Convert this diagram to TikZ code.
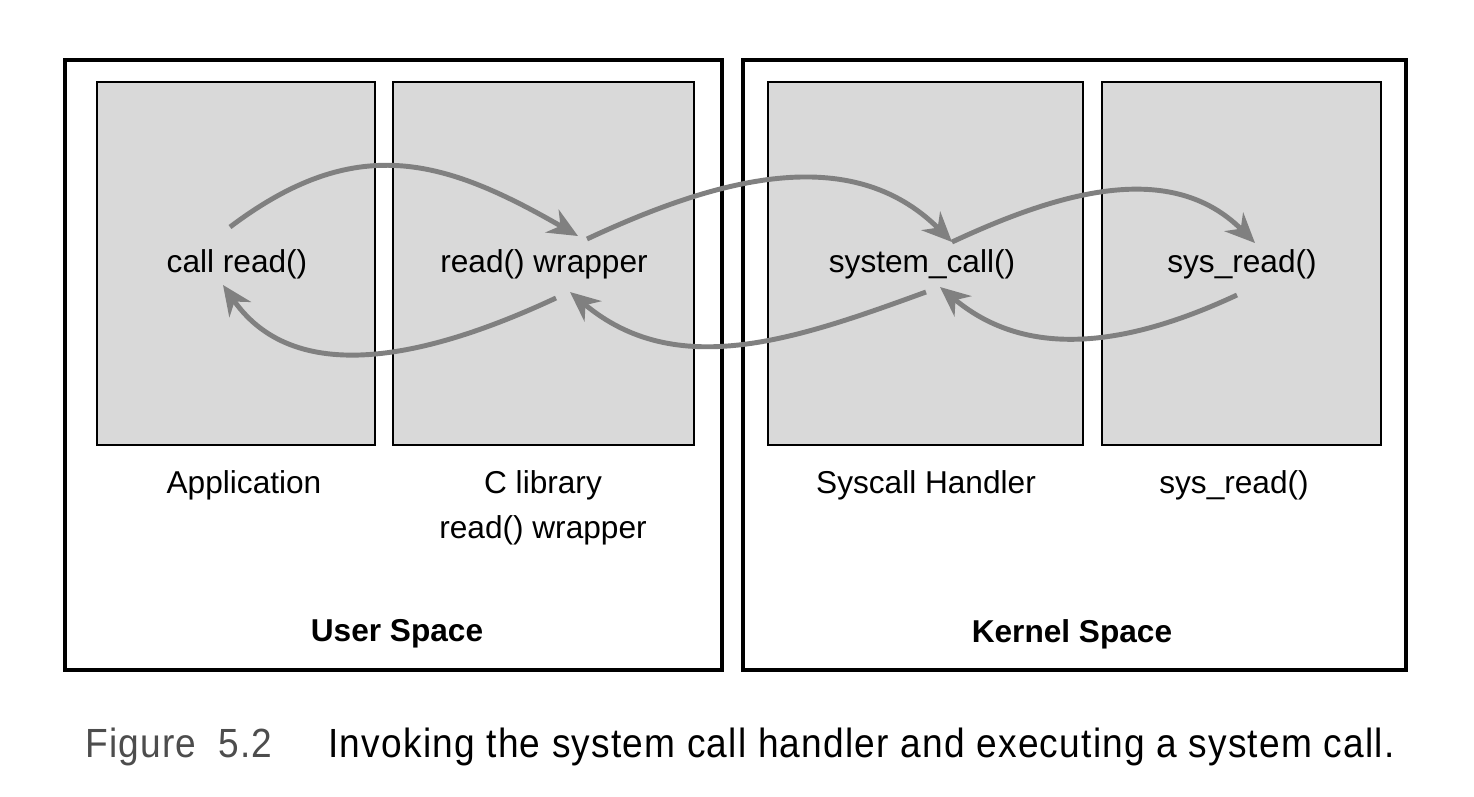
\documentclass[tikz,border=0pt]{standalone}
\usepackage{fontspec}
\setmainfont{Liberation Sans}
\newfontfamily\capfont{Liberation Sans}[FakeStretch=0.91, LetterSpace=3]
\usetikzlibrary{arrows.meta}

\definecolor{partgrey}{HTML}{D9D9D9}
\definecolor{flowgrey}{HTML}{808080}
\definecolor{figgrey}{HTML}{4D4D4D}

\begin{document}
\begin{tikzpicture}[
	x=0.02cm, y=0.02cm,
	space/.style = {draw, line width=2.3pt, minimum height=12.2cm},
	part/.style = {draw, line width=1.1pt, fill=partgrey, minimum height=7.26cm},
	label/.style = {font=\fontsize{18}{25.5}\selectfont, align=center, inner sep=0pt},
	title/.style = {label, font=\fontsize{18}{22}\selectfont\bfseries},
	caption/.style = {anchor=base west, inner sep=0pt, font=\capfont\fontsize{23.2}{28}\selectfont},
	flow/.style = {draw=flowgrey, line width=2.8pt,
		-{Stealth[length=17pt, width=15pt, inset=5.5pt]}},
]
	\useasboundingbox (0,0) rectangle (1474,-796);

	%% The two spaces
	\node [space, minimum width=13.14cm] at (393.5,-365) (user) {};
	\node [space, minimum width=13.26cm] at (1074.5,-365) (kernel) {};

	%% The four grey parts, from left to right
	\foreach \name/\l/\r in {app/97/375, clib/393/694, handler/768/1083, readbox/1102/1381}{%
		\pgfmathsetmacro\w{(\r-\l)*0.02}
		\node [part, minimum width=\w cm] at ({(\l+\r)/2},-263.5) (\name) {};
	}

	%% What runs in each part
	\node [label] at (237,-264) (callread) {call read()};
	\node [label] at (544,-264) (wrapper) {read() wrapper};
	\node [label] at (922,-264) (syscall) {system\_call()};
	\node [label] at (1242,-264) (sysrd) {sys\_read()};

	%% Names under the parts
	\node [label] at (244,-485) (appname) {Application};
	\node [label] at (543,-507.5) (clibname) {C library\\read() wrapper};
	\node [label] at (926,-485) (handlername) {Syscall Handler};
	\node [label] at (1234,-485) (readname) {sys\_read()};

	\node [title] at (397,-634) (username) {User Space};
	\node [title] at (1072,-634) (kernelname) {Kernel Space};

	%% The calls going in
	\draw [flow] ([shift={(-7,37)}]callread.center) to[out=37,in=150,looseness=1.15] ([shift={(34,28)}]wrapper.center);
	\draw [flow] ([shift={(43,25)}]wrapper.center) to[out=25,in=135] ([shift={(30,22)}]syscall.center);
	\draw [flow] ([shift={(30,22)}]syscall.center) to[out=25,in=135] ([shift={(13,21)}]sysrd.center);

	%% The returns coming back
	\draw [flow] ([shift={(-5,-31)}]sysrd.center) to[out=205,in=320] ([shift={(18,-23)}]syscall.center);
	\draw [flow] ([shift={(4,-28)}]syscall.center) to[out=200,in=320] ([shift={(26,-28)}]wrapper.center);
	\draw [flow] ([shift={(12,-34)}]wrapper.center) to[out=205,in=305] ([shift={(-14,-21)}]callread.center);

	%% Caption
	\node [caption, text=figgrey] at (85,-757) (fignum) {Figure\hspace{0.25em} 5.2};
	\node [caption] at (328,-757) (figtext) {Invoking the system call handler and executing a system call.};

\end{tikzpicture}
\end{document}
